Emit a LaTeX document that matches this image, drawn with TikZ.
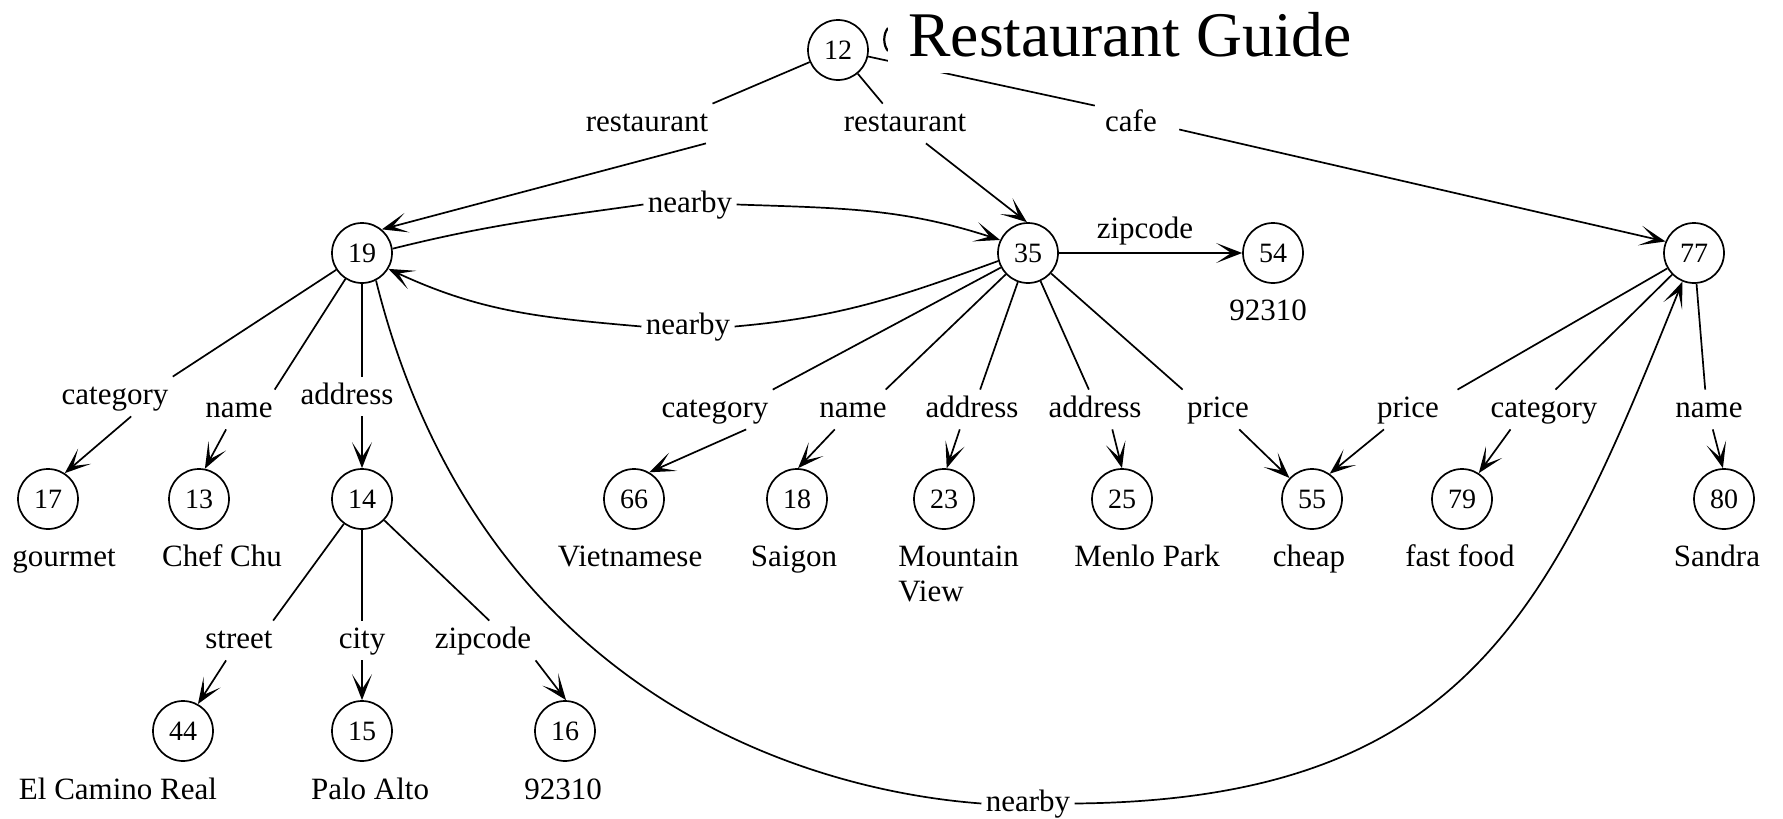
\documentclass[tikz,border=0pt]{standalone}
\usepackage{fontspec}
\setmainfont{Liberation Serif}
\usetikzlibrary{arrows.meta,calc}

\newcommand\lblfont{\fontsize{15.5pt}{17.5pt}\selectfont}
\newcommand\vtxfont{\fontsize{14pt}{16pt}\selectfont}
\newcommand\ttlfont{\fontsize{31.8pt}{36pt}\selectfont}

\tikzset{
  vtx/.style={circle, draw, line width=0.85pt, minimum size=30pt, inner sep=0pt, font=\vtxfont},
  lbl/.style={font=\lblfont, inner xsep=2pt, inner ysep=2.5pt, text height=11pt, text depth=3.5pt, anchor=base},
  val/.style={font=\lblfont, inner sep=1pt, anchor=base},
  edge/.style={line width=0.85pt},
  arr/.style={-{Stealth[length=13pt,width=10pt,inset=7.5pt]}},
  ttl/.style={font=\ttlfont, fill=white, anchor=base west, inner xsep=10pt, inner ysep=8pt},
}

% labelled edge: tail -> top of label, bottom of label -> head
\newcommand\gedge[5]{%
  \draw[edge] (#1) -- ($(#2.north west)!#3!(#2.north east)$);
  \draw[edge,arr] ($(#2.south west)!#4!(#2.south east)$) -- (#5);}

\begin{document}
\begin{tikzpicture}[x=0.5pt, y=-0.5pt]
\useasboundingbox (0,0) rectangle (1783,819);

% objects
\node[vtx] (n12) at (838,50) {12};
\node[vtx] (n19) at (362,253) {19};
\node[vtx] (n35) at (1028,253) {35};
\node[vtx] (n54) at (1273,253) {54};
\node[vtx] (n77) at (1694,253) {77};
\node[vtx] (n17) at (48,499) {17};
\node[vtx] (n13) at (199,499) {13};
\node[vtx] (n14) at (362,499) {14};
\node[vtx] (n66) at (634,499) {66};
\node[vtx] (n18) at (797,499) {18};
\node[vtx] (n23) at (944,499) {23};
\node[vtx] (n25) at (1122,499) {25};
\node[vtx] (n55) at (1312,499) {55};
\node[vtx] (n79) at (1462,499) {79};
\node[vtx] (n80) at (1724,499) {80};
\node[vtx] (n44) at (183,731) {44};
\node[vtx] (n15) at (362,731) {15};
\node[vtx] (n16) at (565,731) {16};

% atomic values
\node[val] (v54) at (1268,320) {92310};
\node[val] (v17) at (64,566) {gourmet};
\node[val] (v13) at (222,566) {Chef Chu};
\node[val] (v66) at (630,566) {Vietnamese};
\node[val] (v18) at (794,566) {Saigon};
\node[val, anchor=base west, align=left] (v23) at (896,601) {Mountain\\View};
\node[val] (v25) at (1147,566) {Menlo Park};
\node[val] (v55) at (1309,566) {cheap};
\node[val] (v79) at (1460,566) {fast food};
\node[val] (v80) at (1717,566) {Sandra};
\node[val] (v44) at (118,799) {El Camino Real};
\node[val] (v15) at (370,799) {Palo Alto};
\node[val] (v16) at (563,799) {92310};

% edge labels
\node[lbl] (r1) at (647,131) {restaurant};
\node[lbl] (r2) at (905,131) {restaurant};
\node[lbl] (cafe) at (1131,131) {cafe};
\node[lbl] (nb1) at (690,212) {nearby};
\node[lbl] (nb2) at (688,334) {nearby};
\node[lbl] (nb3) at (1028,811) {nearby};
\node[lbl] (zipA) at (1145,238) {zipcode};
\node[lbl] (cat19) at (115,404) {category};
\node[lbl] (name19) at (239,417) {name};
\node[lbl] (addr19) at (347,404) {address};
\node[lbl] (street) at (239,648) {street};
\node[lbl] (city) at (362,648) {city};
\node[lbl] (zipB) at (483,648) {zipcode};
\node[lbl] (cat35) at (715,417) {category};
\node[lbl] (name35) at (853,417) {name};
\node[lbl] (addrA) at (972,417) {address};
\node[lbl] (addrB) at (1095,417) {address};
\node[lbl] (price35) at (1218,417) {price};
\node[lbl] (price77) at (1408,417) {price};
\node[lbl] (cat77) at (1544,417) {category};
\node[lbl] (name77) at (1709,417) {name};

% edges out of 12
\gedge{n12}{r1}{1.0}{0.95}{n19.50}
\gedge{n12}{r2}{0.33}{0.66}{n35.92}
\draw[edge] (n12) -- ($(cafe.north west)+(-6,2)$);
\draw[edge,arr] ($(cafe.east)+(18,6)$) -- (n77.158);

% edges out of 19
\gedge{n19}{cat19}{1.0}{0.64}{n17.57}
\gedge{n19}{name19}{0.97}{0.33}{n13.79}
\draw[edge] (n19) -- (n19 |- addr19.north);
\draw[edge,arr] (n14 |- addr19.south) -- (n14);

% edges out of 14
\gedge{n14}{street}{0.95}{0.33}{n44.61}
\draw[edge] (n14) -- (n14 |- city.north);
\draw[edge,arr] (n15 |- city.south) -- (n15);
\gedge{n14}{zipB}{0.56}{1.0}{n16.88}

% edges out of 35
\gedge{n35}{cat35}{1.0}{0.77}{n66.60}
\gedge{n35}{name35}{0.93}{0.26}{n18.88}
\gedge{n35}{addrA}{0.58}{0.38}{n23.85}
\gedge{n35}{addrB}{0.44}{0.67}{n25.90}
\gedge{n35}{price35}{0.0}{0.8}{n55.137}
\draw[edge,arr] (n35) -- (n54);

% edges out of 77
\gedge{n77}{price77}{1.2}{0.16}{n55.55}
\gedge{n77}{cat77}{0.6}{0.21}{n79.57}
\gedge{n77}{name77}{0.45}{0.55}{n80.92}

% nearby links
\draw[edge] (n19.8) to[out=14,in=188] (nb1.west);
\draw[edge,arr] (nb1.east) to[out=-2,in=162] (n35.155);
\draw[edge] (n35.195) to[out=200,in=5] (nb2.east);
\draw[edge,arr] (nb2.west) to[out=175,in=-25] (n19.-31);
\draw[edge] (n19.-63) .. controls (478,690) and (800,790) .. (nb3.west);
\draw[edge,arr] (nb3.east) .. controls (1470,800) and (1552,605) .. (n77.-112);

% heading
\draw[line width=1.1pt] (888,28) .. controls (883,34) and (883,45) .. (888,51);
\node[ttl] (title) at (888,56) {Restaurant Guide};
\end{tikzpicture}
\end{document}
